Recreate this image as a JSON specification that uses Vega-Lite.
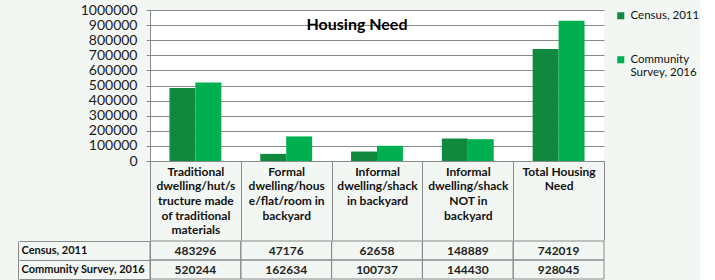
{
  "$schema": "https://vega.github.io/schema/vega-lite/v6.json",
  "background": "#f3f7f3",
  "padding": {"left": 18, "top": 3, "right": 0, "bottom": 0},
  "spacing": -10,
  "config": {
    "view": {"stroke": null},
    "font": "Lato"
  },
  "data": {
    "values": [
      {"category": "Traditional dwelling/hut/structure made of traditional materials", "series": "Census, 2011", "value": 483296},
      {"category": "Traditional dwelling/hut/structure made of traditional materials", "series": "Community Survey, 2016", "value": 520244},
      {"category": "Formal dwelling/house/flat/room in backyard", "series": "Census, 2011", "value": 47176},
      {"category": "Formal dwelling/house/flat/room in backyard", "series": "Community Survey, 2016", "value": 162634},
      {"category": "Informal dwelling/shack in backyard", "series": "Census, 2011", "value": 62658},
      {"category": "Informal dwelling/shack in backyard", "series": "Community Survey, 2016", "value": 100737},
      {"category": "Informal dwelling/shack NOT in backyard", "series": "Census, 2011", "value": 148889},
      {"category": "Informal dwelling/shack NOT in backyard", "series": "Community Survey, 2016", "value": 144430},
      {"category": "Total Housing Need", "series": "Census, 2011", "value": 742019},
      {"category": "Total Housing Need", "series": "Community Survey, 2016", "value": 928045}
    ]
  },
  "vconcat": [
    {
      "width": 454,
      "height": 151,
      "view": {"fill": "white", "stroke": null},
      "title": {"text": "Housing Need", "offset": -30, "dx": -20, "fontSize": 16, "fontWeight": "bold", "font": "Lato", "color": "#000"},
      "mark": {"type": "bar"},
      "encoding": {
        "x": {
          "field": "category", "type": "nominal", "sort": null,
          "scale": {"paddingInner": 0, "paddingOuter": 0},
          "axis": {
            "title": null,
            "labelAngle": 0,
            "labelExpr": "indexof(datum.label, 'Traditional') == 0 ? ['Traditional', 'dwelling/hut/s', 'tructure made', 'of traditional', 'materials'] : indexof(datum.label, 'Formal') == 0 ? ['Formal', 'dwelling/hous', 'e/flat/room in', 'backyard'] : indexof(datum.label, 'NOT') >= 0 ? ['Informal', 'dwelling/shack', 'NOT in', 'backyard'] : indexof(datum.label, 'Informal') == 0 ? ['Informal', 'dwelling/shack', 'in backyard'] : indexof(datum.label, 'Total') == 0 ? ['Total Housing', 'Need'] : ''",
            "labelFont": "Lato", "labelFontSize": 12, "labelFontWeight": "bold", "labelColor": "#111",
            "labelBaseline": "middle", "labelLineHeight": 14.6,
            "labelPadding": -68.7,
            "labelOverlap": false, "labelBound": false, "labelLimit": 0,
            "ticks": true, "tickBand": "extent", "tickSize": 79, "tickColor": "#8a8a8a", "tickWidth": 1,
            "domainColor": "#8a8a8a",
            "encode": {
              "labels": {
                "dy": {
                  "condition": [
                    {"test": "indexof(datum.value, 'Formal') == 0 || indexof(datum.value, 'NOT') >= 0", "value": 7.3},
                    {"test": "indexof(datum.value, 'Informal') == 0", "value": 14.6},
                    {"test": "indexof(datum.value, 'Total') == 0", "value": 21.9}
                  ],
                  "value": 0
                }
              }
            }
          }
        },
        "xOffset": {"field": "series", "type": "nominal", "sort": null, "scale": {"paddingInner": 0, "paddingOuter": 0.75}},
        "y": {
          "field": "value", "type": "quantitative",
          "scale": {"domain": [0, 1000000]},
          "axis": {
            "title": null,
            "values": [0, 100000, 200000, 300000, 400000, 500000, 600000, 700000, 800000, 900000, 1000000],
            "format": "d",
            "labelFont": "Lato", "labelFontSize": 14, "labelColor": "#1a1a1a", "labelPadding": 9,
            "tickSize": 4, "tickColor": "#8a8a8a",
            "domainColor": "#8a8a8a",
            "gridColor": "#8a8a8a", "gridWidth": 1
          }
        },
        "color": {
          "field": "series", "type": "nominal", "sort": null,
          "scale": {"domain": ["Census, 2011", "Community Survey, 2016"], "range": ["#10893f", "#00b050"]},
          "legend": {
            "title": null, "orient": "right", "offset": 10,
            "symbolType": "square", "symbolSize": 50, "symbolStrokeWidth": 0,
            "labelFont": "Lato", "labelFontSize": 11.5, "labelColor": "#111",
            "labelExpr": "datum.label == 'Community Survey, 2016' ? ['Community', 'Survey, 2016'] : datum.label",
            "rowPadding": 31
          }
        }
      }
    },
    {
      "width": 454,
      "height": 38,
      "resolve": {"axis": {"y": "independent"}},
      "layer": [
        {
          "mark": {"type": "rect", "fill": "transparent", "stroke": "#8a8a8a", "strokeWidth": 1},
          "encoding": {
            "x": {"field": "category", "type": "nominal", "sort": null, "scale": {"paddingInner": 0, "paddingOuter": 0}, "axis": null},
            "y": {
              "field": "series", "type": "nominal", "sort": null,
              "scale": {"paddingInner": 0, "paddingOuter": 0},
              "axis": {
                "title": null, "orient": "left",
                "labelAlign": "left", "labelPadding": -2, "labelBaseline": "middle",
                "labelFont": "Lato", "labelFontSize": 11, "labelFontWeight": "bold", "labelColor": "#111",
                "labelLimit": 0,
                "ticks": true, "tickBand": "extent", "tickSize": 131, "tickColor": "#8a8a8a",
                "domainColor": "#8a8a8a"
              }
            }
          }
        },
        {
          "mark": {"type": "text", "font": "Lato", "fontSize": 12, "fontWeight": "bold", "color": "#222"},
          "encoding": {
            "x": {"field": "category", "type": "nominal", "sort": null, "scale": {"paddingInner": 0, "paddingOuter": 0}, "axis": null},
            "y": {
              "field": "series", "type": "nominal", "sort": null,
              "scale": {"paddingInner": 0, "paddingOuter": 0},
              "axis": {"title": null, "orient": "left", "offset": 132, "labels": false, "ticks": false, "domain": true, "domainColor": "#8a8a8a"}
            },
            "text": {"field": "value", "type": "quantitative", "format": "d"}
          }
        }
      ]
    }
  ]
}
